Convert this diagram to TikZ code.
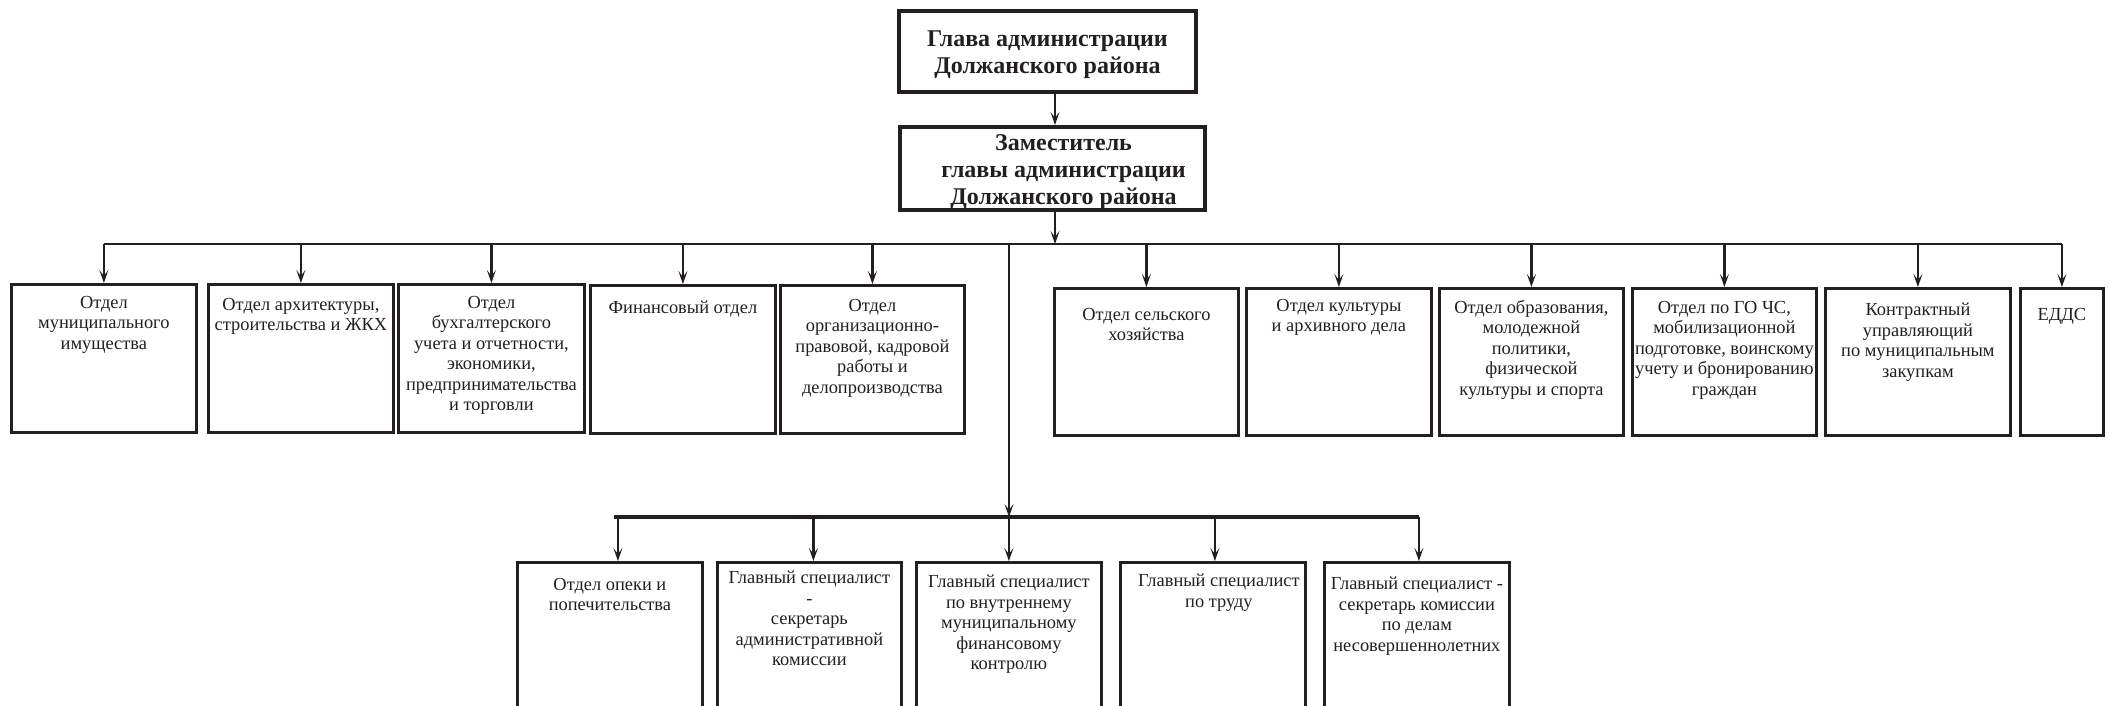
\documentclass[tikz,border=0pt]{standalone}
\usepackage{fontspec}
\setmainfont{Liberation Serif}
\usetikzlibrary{arrows.meta}
\definecolor{ink}{HTML}{231F20}
\begin{document}
\begin{tikzpicture}[x=1pt,y=-1pt,
  box/.style={draw=ink, line width=2.8pt, inner sep=0pt, anchor=north west, minimum height=148pt},
  lowbox/.style={draw=ink, line width=2.8pt, inner sep=0pt, anchor=north west, minimum height=200pt},
  headbox/.style={draw=ink, line width=4pt, inner sep=0pt, anchor=north west},
  txt/.style={text=ink, align=center, inner sep=0pt, anchor=north, font=\fontsize{18.4}{20.5}\selectfont},
  headtxt/.style={text=ink, align=center, inner sep=0pt, font=\fontsize{24}{27}\selectfont\bfseries},
  conn/.style={draw=ink, line width=2.4pt},
  arr/.style={conn, -{Stealth[length=13pt,width=9pt,inset=6pt]}}]
\useasboundingbox (0,0) rectangle (2109,706);
\clip (0,0) rectangle (2109,706);
\fill[white] (0,0) rectangle (2109,706);

% head boxes
\node[headbox, minimum width=297pt, minimum height=81pt] (g) at (897,9) {};
\node[headtxt] (gt) at ([yshift=-3pt]g.center) {Глава администрации\\Должанского района};
\node[headbox, minimum width=305pt, minimum height=83pt] (d) at (898,125) {};
\node[headtxt] (dt) at ([xshift=11pt,yshift=-4pt]d.center) {Заместитель\\главы администрации\\Должанского района};

% top row (left group)
\node[box, minimum width=185pt] (t1) at (10,283) {};
\node[box, minimum width=185pt] (t2) at (207,283) {};
\node[box, minimum width=186pt] (t3) at (397,283) {};
\node[box, minimum width=185pt] (t4) at (589,284) {};
\node[box, minimum width=184pt] (t5) at (779,284) {};
% top row (right group)
\node[box, minimum width=184pt, minimum height=147pt] (t6) at (1053,287) {};
\node[box, minimum width=185pt, minimum height=147pt] (t7) at (1245,287) {};
\node[box, minimum width=184pt, minimum height=147pt] (t8) at (1438,287) {};
\node[box, minimum width=184pt, minimum height=147pt] (t9) at (1631,287) {};
\node[box, minimum width=185pt, minimum height=147pt] (t10) at (1824,287) {};
\node[box, minimum width=83pt, minimum height=147pt] (t11) at (2019,287) {};

\node[txt] (t1l) at ([yshift=-13pt]t1.north) {Отдел\\муниципального\\имущества};
\node[txt] (t2l) at ([yshift=-15pt]t2.north) {Отдел архитектуры,\\строительства и ЖКХ};
\node[txt] (t3l) at ([yshift=-13pt]t3.north) {Отдел\\бухгалтерского\\учета и отчетности,\\экономики,\\предпринимательства\\и торговли};
\node[txt] (t4l) at ([yshift=-17pt]t4.north) {Финансовый отдел};
\node[txt] (t5l) at ([yshift=-15pt]t5.north) {Отдел\\организационно-\\правовой, кадровой\\работы и\\делопроизводства};
\node[txt] (t6l) at ([yshift=-21pt]t6.north) {Отдел сельского\\хозяйства};
\node[txt] (t7l) at ([yshift=-12pt]t7.north) {Отдел культуры\\и архивного дела};
\node[txt] (t8l) at ([yshift=-13pt]t8.north) {Отдел образования,\\молодежной\\политики,\\физической\\культуры и спорта};
\node[txt] (t9l) at ([yshift=-14pt]t9.north) {Отдел по ГО ЧС,\\мобилизационной\\подготовке, воинскому\\учету и бронированию\\граждан};
\node[txt] (t10l) at ([yshift=-16pt]t10.north) {Контрактный\\управляющий\\по муниципальным\\закупкам};
\node[txt] (t11l) at ([yshift=-21pt]t11.north) {ЕДДС};

% bottom row
\node[lowbox, minimum width=185pt] (b1) at (516,561) {};
\node[lowbox, minimum width=184pt] (b2) at (716,561) {};
\node[lowbox, minimum width=185pt] (b3) at (915,561) {};
\node[lowbox, minimum width=185pt] (b4) at (1119,561) {};
\node[lowbox, minimum width=185pt] (b5) at (1323,561) {};

\node[txt] (b1l) at ([yshift=-17pt]b1.north) {Отдел опеки и\\попечительства};
\node[txt] (b2l) at ([yshift=-10pt]b2.north) {Главный специалист\\-\\секретарь\\административной\\комиссии};
\node[txt] (b3l) at ([yshift=-14pt]b3.north) {Главный специалист\\по внутреннему\\муниципальному\\финансовому\\контролю};
\node[txt] (b4l) at ([xshift=6pt,yshift=-13pt]b4.north) {Главный специалист\\по труду};
\node[txt] (b5l) at ([yshift=-16pt]b5.north) {Главный специалист -\\секретарь комиссии\\по делам\\несовершеннолетних};

% connectors
\coordinate (bus) at (1009,244);
\coordinate (bbus) at (1009,517);
\draw[arr] (g.south -| 1055,0) -- (d.north -| 1055,0);
\draw[arr] (d.south -| 1055,0) -- (bus -| 1055,0);
\draw[conn] (bus -| t1.north) -- (bus -| t11.north);
\foreach \n in {t1,t2,t3,t4,t5,t6,t7,t8,t9,t10,t11}
  \draw[arr] (bus -| \n.north) -- (\n.north);
\draw[arr] (bus) -- (bbus);
\draw[conn, line width=3.6pt] ([xshift=4pt]bbus -| b1.north) -- ([xshift=2pt]bbus -| b5.north);
\foreach \n/\dx in {b1/8,b2/4,b3/0,b4/2,b5/2}
  \draw[arr] ([xshift=\dx pt]bbus -| \n.north) -- ([xshift=\dx pt]\n.north);
\end{tikzpicture}
\end{document}
